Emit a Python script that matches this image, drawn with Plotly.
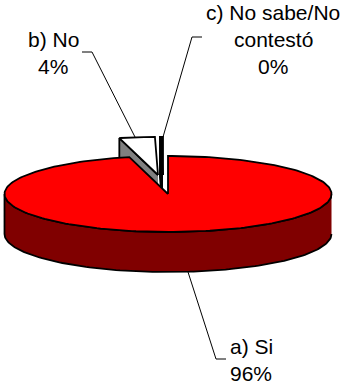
import numpy as np
import plotly.graph_objects as go

# pie data (percent read from labels / thin slice estimated)
labels = ['a) Si', 'b) No', 'c) No sabe/No contestó']
values = [96.2, 3.5, 0.3]
label_lines = [['a) Si', '96%'], ['b) No', '4%'], ['c) No sabe/No', 'contestó', '0%']]

colors = {
    'top': ['#FF0000', '#FFFFFF', '#000000'],
    'side': ['#800000', '#808080', '#000000'],
}

CX, CY = 168, 194
RX, RY = 163.5, 38
DEPTH = 40
FONT = dict(family='Liberation Sans, Arial', size=21, color='#000000')


def ellipse(t, dx=0, dy=0, down=0):
    return CX + dx + RX * np.sin(t), CY + dy + down - RY * np.cos(t)


def poly(fig, x, y, fill):
    fig.add_trace(go.Scatter(
        x=x, y=y, mode='lines', fill='toself', fillcolor=fill,
        line=dict(color='#000000', width=1.8),
        showlegend=False, hoverinfo='skip',
    ))


def add_slice(fig, start, end, color_top, color_side, dx=0, dy=0, cut_wall=False):
    t = np.linspace(start, end, 240)
    tip_x, tip_y = CX + dx, CY + dy
    # outer wall, only the part facing the viewer
    a = np.clip(t, np.pi / 2, 3 * np.pi / 2)
    if a[-1] > a[0]:
        x1, y1 = ellipse(a, dx, dy)
        x2, y2 = ellipse(a[::-1], dx, dy, DEPTH)
        poly(fig, np.r_[x1, x2], np.r_[y1, y2], color_side)
    # cut wall on the left edge of an exploded slice
    if cut_wall:
        x_s, y_s = ellipse(np.array([start]), dx, dy)
        poly(fig,
             [tip_x, x_s[0], x_s[0], tip_x],
             [tip_y, y_s[0], y_s[0] + DEPTH, tip_y + DEPTH],
             color_side)
    # top face
    x, y = ellipse(t, dx, dy)
    poly(fig, np.r_[tip_x, x, tip_x], np.r_[tip_y, y, tip_y], color_top)


fractions = np.array(values) / sum(values)
angles = np.r_[0, np.cumsum(fractions)] * 2 * np.pi

fig = go.Figure()

# exploded slices go first, the big slice covers their lower part
add_slice(fig, angles[1], angles[2], colors['top'][1], colors['side'][1], dx=-10, dy=-19, cut_wall=True)
add_slice(fig, angles[2], angles[3], colors['top'][2], colors['side'][2], dx=-5, dy=-19, cut_wall=True)
add_slice(fig, angles[0], angles[1], colors['top'][0], colors['side'][0])

# leader lines
leaders = [
    'M 188 272 L 216 359 L 226 359',
    'M 82 52 L 92 52 L 135 137',
    'M 202 37 L 192 37 L 163 137',
]
shapes = [dict(type='path', path=p, line=dict(color='#000000', width=1)) for p in leaders]

# baseline of the first line of each label
label_pos = [(251, 353), (53, 46), (273, 19)]
LINE_STEP = 27
annotations = []
for lines, (lx, ly) in zip(label_lines, label_pos):
    for i, line in enumerate(lines):
        annotations.append(dict(
            x=lx, y=ly + i * LINE_STEP - 7, text=line, showarrow=False,
            xanchor='center', yanchor='middle', font=FONT,
            borderpad=0, borderwidth=0,
        ))

fig.update_layout(
    width=341, height=381,
    margin=dict(l=0, r=0, t=0, b=0),
    paper_bgcolor='#FFFFFF', plot_bgcolor='#FFFFFF',
    xaxis=dict(range=[0, 341], visible=False, fixedrange=True),
    yaxis=dict(range=[381, 0], visible=False, fixedrange=True),
    shapes=shapes, annotations=annotations,
)

fig.write_html("out.html", config=dict(displayModeBar=False),
               post_script="document.body.style.margin='0';document.body.style.overflow='hidden';")
